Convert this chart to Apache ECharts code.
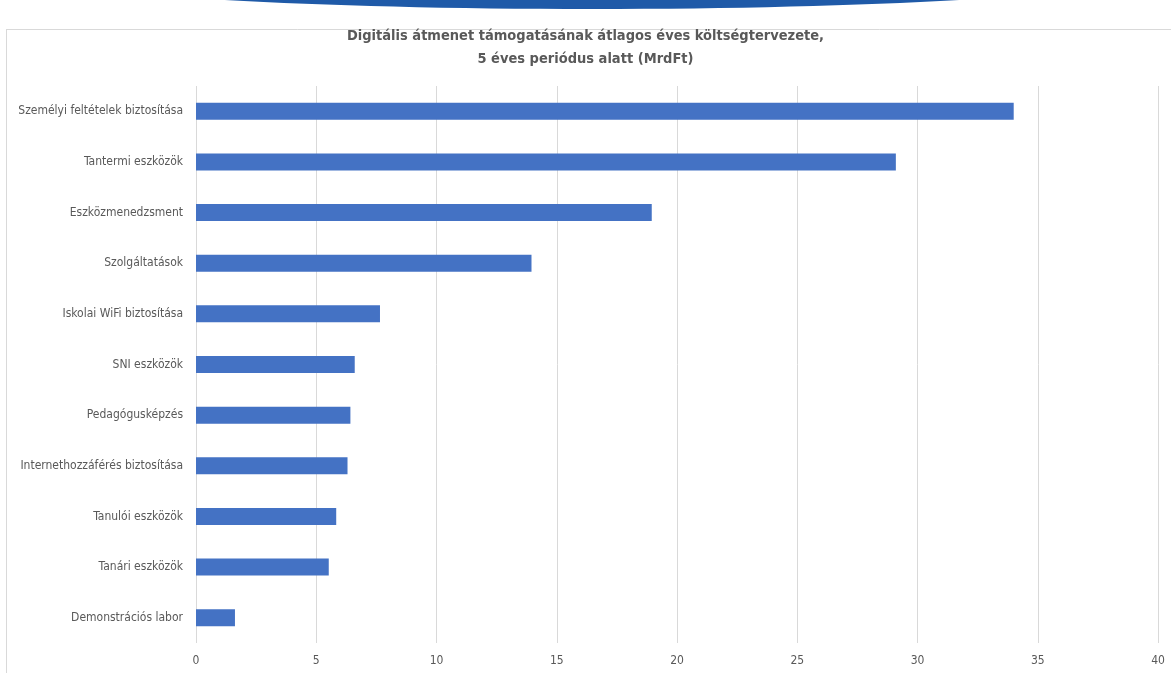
<!DOCTYPE html>
<html><head><meta charset="utf-8">
<script src="https://cdn.jsdelivr.net/npm/echarts@6/dist/echarts.min.js"></script>
<style>html,body{margin:0;padding:0;background:#fff}#c{width:1171px;height:673px}</style>
</head><body><div id="c"></div>
<script>
const categories = ["Személyi feltételek biztosítása","Tantermi eszközök","Eszközmenedzsment","Szolgáltatások","Iskolai WiFi biztosítása","SNI eszközök","Pedagógusképzés","Internethozzáférés biztosítása","Tanulói eszközök","Tanári eszközök","Demonstrációs labor"];
const values = [34.0, 29.1, 18.95, 13.95, 7.65, 6.6, 6.42, 6.3, 5.83, 5.52, 1.62];
const titleText = "Digitális átmenet támogatásának átlagos éves költségtervezete,\n5 éves periódus alatt (MrdFt)";
const FONT = '"Liberation Sans Narrow","DejaVu Sans Condensed",sans-serif';
const chart = echarts.init(document.getElementById('c'), null, {renderer:'canvas'});
chart.setOption({
  backgroundColor:'#fff',
  animation:false,
  graphic:[
    {type:'ellipse', shape:{cx:592, cy:-31, rx:581, ry:40}, style:{fill:'#1f5aa8'}, silent:true},
    {type:'line', shape:{x1:6,y1:29.5,x2:1171,y2:29.5}, style:{stroke:'#d9d9d9',lineWidth:1}},
    {type:'line', shape:{x1:6.5,y1:29,x2:6.5,y2:673}, style:{stroke:'#d9d9d9',lineWidth:1}}
  ],
  title:{text:titleText, left:'center', top:20,
    textStyle:{fontFamily:FONT, fontSize:14.5, fontWeight:'bold', color:'#595959', lineHeight:23}},
  grid:{left:196, right:13, top:86, bottom:30, containLabel:false},
  xAxis:{type:'value', min:0, max:40, interval:5,
    axisLine:{show:false}, axisTick:{show:false},
    splitLine:{lineStyle:{color:'#d9d9d9', width:1}},
    axisLabel:{fontFamily:FONT, fontSize:12, color:'#595959', margin:12}},
  yAxis:{type:'category', inverse:true, data:categories,
    axisLine:{show:false}, axisTick:{show:false},
    axisLabel:{fontFamily:FONT, fontSize:12, color:'#595959', margin:13}},
  series:[{type:'bar', data:values, barWidth:17, itemStyle:{color:'#4472c4'}}]
});
</script></body></html>
